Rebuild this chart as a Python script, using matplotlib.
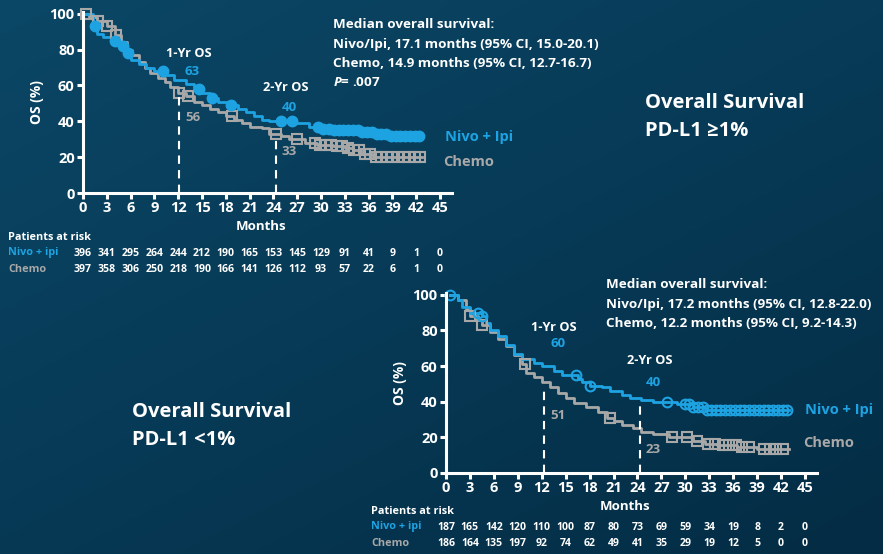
import numpy as np
import matplotlib.pyplot as plt
from matplotlib import transforms
from matplotlib.colors import LinearSegmentedColormap

plt.rcParams['font.family'] = ['Open Sans', 'DejaVu Sans']
plt.rcParams['font.weight'] = 'bold'
plt.rcParams['axes.labelweight'] = 'bold'
plt.rcParams['mathtext.fontset'] = 'custom'
plt.rcParams['mathtext.bfit'] = 'Open Sans:bold:italic'

BLUE = '#1ea3e2'
GREY = '#a8a8a8'
WHITE = '#ffffff'

# ---- PD-L1 >= 1% ----
hi_nivo_t = [0, 1.2, 1.8, 2.5, 3.5, 4.5, 5.3, 6.0, 7.0, 8.0, 9.0, 10.5, 11.5, 13.0, 14.0, 15.0,
             16.0, 17.0, 18.5, 19.5, 20.5, 21.5, 22.5, 23.5, 26.8, 28.5, 30.0, 31.5, 35.0, 36.5, 38.5, 42.7]
hi_nivo_s = [100, 93, 89, 87, 85, 82, 78, 74, 72, 70, 68, 66, 63, 61, 58, 56,
             53, 51, 49, 47, 45, 43, 41, 40, 39, 37, 35.5, 35, 34, 33, 32, 32]
hi_chemo_t = [0, 0.8, 1.8, 3.0, 4.0, 4.8, 5.5, 6.2, 7.0, 7.8, 8.5, 9.5, 10.3, 11.0, 12.0, 13.0,
              14.0, 15.0, 16.0, 17.0, 18.0, 19.0, 20.0, 21.0, 22.5, 23.5, 25.0, 26.0, 28.0, 29.5,
              31.5, 33.0, 34.0, 35.0, 36.5, 42.7]
hi_chemo_s = [100, 98, 96, 93, 88, 84, 80, 77, 73, 70, 67, 64, 62, 59, 56, 54,
              51, 49, 47, 45, 43, 41, 39, 37, 36, 33, 32, 30, 28, 27,
              26, 25, 24, 22, 20, 20]
hi_nivo_cens = [1.5, 4.0, 5.0, 5.7, 10.1, 14.6, 16.2, 18.7, 25.0, 26.4, 29.6, 30.3, 31.0, 31.6, 32.2,
                32.8, 33.4, 34.0, 34.6, 35.2, 35.8, 36.4, 37.0, 37.6, 38.2, 38.8, 39.4, 40.0,
                40.6, 41.2, 41.8, 42.4]
hi_chemo_cens = [0.4, 1.9, 3.0, 4.2, 12.1, 13.2, 18.8, 24.3, 27.0, 29.2, 29.9, 30.6, 31.3, 32.0,
                 32.7, 33.4, 34.1, 34.8, 35.5, 36.2, 36.9, 37.6, 38.3, 39.0, 39.7, 40.4, 41.1,
                 41.8, 42.5]
hi_risk_nivo = [396, 341, 295, 264, 244, 212, 190, 165, 153, 145, 129, 91, 41, 9, 1, 0]
hi_risk_chemo = [397, 358, 306, 250, 218, 190, 166, 141, 126, 112, 93, 57, 22, 6, 1, 0]
hi_landmarks = [(12.1, 55, '63', '56'), (24.3, 32, '40', '33')]
hi_median = ['Median overall survival:',
             'Nivo/Ipi, 17.1 months (95% CI, 15.0-20.1)',
             'Chemo, 14.9 months (95% CI, 12.7-16.7)']

# ---- PD-L1 < 1% ----
lo_nivo_t = [0.5, 1.5, 2.0, 3.0, 4.5, 5.0, 5.5, 6.5, 7.5, 8.5, 9.5, 11.0, 12.0, 13.5, 14.5,
             16.5, 17.0, 18.0, 19.5, 20.5, 22.0, 23.0, 24.5, 26.0, 29.0, 31.0, 32.5, 43.0]
lo_nivo_s = [100, 97, 93, 90, 88, 84, 80, 77, 72, 67, 64, 62, 60, 57, 55,
             53, 51, 49, 48, 46, 44, 42, 41, 40, 38.5, 37, 35.5, 35.5]
lo_chemo_t = [0.5, 1.5, 2.5, 3.0, 4.0, 4.5, 5.5, 6.5, 7.5, 8.5, 9.5, 10.0, 11.0, 12.0, 13.0,
              14.0, 15.0, 16.0, 17.5, 19.0, 20.2, 21.0, 22.0, 23.5, 24.5, 26.0, 28.0, 31.0,
              32.5, 34.0, 36.5, 39.0, 43.0]
lo_chemo_s = [100, 97, 92, 88, 86, 83, 79, 75, 71, 66, 61, 56, 54, 51, 48,
              45, 42, 39, 37, 34, 31, 29, 27, 25, 23, 22, 20, 18,
              16.5, 15.5, 14.5, 13.5, 13.5]
lo_nivo_cens = [0.5, 4.0, 4.5, 16.3, 18.0, 27.7, 30.0, 30.5, 31.0, 31.6, 32.2, 32.7, 33.2, 33.8,
                34.4, 35.0, 35.6, 36.2, 36.8, 37.4, 38.0, 38.6, 39.2, 39.8, 40.4, 41.0, 41.6,
                42.2, 42.8]
lo_chemo_cens = [3.0, 4.5, 9.9, 20.6, 28.3, 30.2, 31.5, 32.9, 33.7, 34.7, 35.5, 36.3, 37.1, 38.0,
                 39.8, 40.6, 41.4, 42.3]
lo_risk_nivo = [187, 165, 142, 120, 110, 100, 87, 80, 73, 69, 59, 34, 19, 8, 2, 0]
lo_risk_chemo = [186, 164, 135, 197, 92, 74, 62, 49, 41, 35, 29, 19, 12, 5, 0, 0]
lo_landmarks = [(12.3, 49, '60', '51'), (24.3, 39, '40', '23')]
lo_median = ['Median overall survival:',
             'Nivo/Ipi, 17.2 months (95% CI, 12.8-22.0)',
             'Chemo, 12.2 months (95% CI, 9.2-14.3)']

months = np.arange(0, 46, 3)

W, H = 883, 554
fig = plt.figure(figsize=(W / 100, H / 100), dpi=100)


def px(x, y):
    return x / W, 1 - y / H


# background gradient
bg = fig.add_axes([0, 0, 1, 1])
gx, gy = np.meshgrid(np.linspace(0, 1, 200), np.linspace(0, 1, 200))
cmap = LinearSegmentedColormap.from_list('bg', ['#0b4766', '#073a56', '#042c44'])
bg.imshow(0.55 * gy + 0.45 * gx, cmap=cmap, aspect='auto', extent=[0, 1, 0, 1], origin='upper')
bg.axis('off')


def step_at(t, s, x):
    i = np.searchsorted(t, x, side='right') - 1
    return np.asarray(s)[i]


def km_panel(rect, nt, ns, ct, cs, ncens, ccens, filled, landmarks, lm_pos):
    ax = fig.add_axes(rect)
    ax.set_facecolor('none')
    ax.step(ct, cs, where='post', color=GREY, lw=2, clip_on=False)
    ax.step(nt, ns, where='post', color=BLUE, lw=2, clip_on=False)
    ax.plot(ccens, step_at(ct, cs, ccens), 's', ms=7, mfc='none', mec=GREY, mew=1.5, clip_on=False)
    ax.plot(ncens, step_at(nt, ns, ncens), 'o', ms=7, mfc=BLUE if filled else 'none',
            mec=BLUE, mew=1.5, clip_on=False)
    for (x, top, vn, vc), (ly, ny, cy) in zip(landmarks, lm_pos):
        ax.plot([x, x], [0, top], color=WHITE, lw=1.5, ls=(0, (4, 3)))
        ax.text(x + 1.2, ly, f'{"1" if x < 18 else "2"}-Yr OS', color=WHITE, fontsize=9.2,
                ha='center', va='center')
        ax.text(x + 1.7, ny, vn, color=BLUE, fontsize=9.5, ha='center', va='center')
        ax.text(x + 1.7, cy, vc, color=GREY, fontsize=9.5, ha='center', va='center')
    ax.set_xlim(0, 46.5)
    ax.set_ylim(0, 101)
    ax.set_xticks(months)
    ax.set_yticks([0, 20, 40, 60, 80, 100])
    for side in ('top', 'right'):
        ax.spines[side].set_visible(False)
    for side in ('left', 'bottom'):
        ax.spines[side].set_color(WHITE)
        ax.spines[side].set_linewidth(2.2)
    ax.tick_params(colors=WHITE, width=2.2, length=4, labelsize=10.5, pad=2)
    for lab in ax.get_xticklabels() + ax.get_yticklabels():
        lab.set_fontweight('bold')
    ax.set_ylabel('OS (%)', color=WHITE, fontsize=10, labelpad=4)
    return ax


def risk_table(ax, x0, y_title, y_months, y_n, y_c, rn, rc):
    tr = transforms.blended_transform_factory(ax.transData, fig.transFigure)
    fig.text(*px(x0, y_title), 'Patients at risk', color=WHITE, fontsize=7.8, va='center')
    fig.text(*px(x0, y_n), 'Nivo + ipi', color=BLUE, fontsize=7.8, va='center')
    fig.text(*px(x0, y_c), 'Chemo', color=GREY, fontsize=7.8, va='center')
    ax.text(22.5, px(0, y_months)[1], 'Months', transform=tr, color=WHITE, fontsize=9.5,
            ha='center', va='center')
    for m, a, b in zip(months, rn, rc):
        ax.text(m, px(0, y_n)[1], str(a), transform=tr, color=WHITE, fontsize=7.6,
                ha='center', va='center')
        ax.text(m, px(0, y_c)[1], str(b), transform=tr, color=WHITE, fontsize=7.6,
                ha='center', va='center')


# top panel
ax1 = km_panel([83 / W, 1 - 193 / H, (452 - 83) / W, (193 - 12) / H],
               hi_nivo_t, hi_nivo_s, hi_chemo_t, hi_chemo_s, hi_nivo_cens, hi_chemo_cens,
               True, hi_landmarks, [(78, 68, 42), (59, 47.5, 23)])
risk_table(ax1, 8, 237, 227, 253, 270, hi_risk_nivo, hi_risk_chemo)
for i, line in enumerate(hi_median):
    fig.text(*px(333, 25 + 19.3 * i), line, color=WHITE, fontsize=9.7, va='center')
fig.text(*px(333, 82), r'$\bfit{P}$= .007', color=WHITE, fontsize=9.7, va='center')
fig.text(*px(445, 137), 'Nivo + Ipi', color=BLUE, fontsize=10.5, va='center')
fig.text(*px(443, 162), 'Chemo', color=GREY, fontsize=10.5, va='center')
fig.text(*px(645, 103), 'Overall Survival', color=WHITE, fontsize=14.5, va='center')
fig.text(*px(645, 131), 'PD-L1 ≥1%', color=WHITE, fontsize=14.5, va='center')

# bottom panel
ax2 = km_panel([446 / W, 1 - 473 / H, (817 - 446) / W, (473 - 293) / H],
               lo_nivo_t, lo_nivo_s, lo_chemo_t, lo_chemo_s, lo_nivo_cens, lo_chemo_cens,
               False, lo_landmarks, [(81.5, 72.5, 32), (63, 50.5, 13)])
risk_table(ax2, 371, 511, 506, 527, 543, lo_risk_nivo, lo_risk_chemo)
for i, line in enumerate(lo_median):
    fig.text(*px(606, 285 + 19.3 * i), line, color=WHITE, fontsize=9.7, va='center')
fig.text(*px(805, 410), 'Nivo + Ipi', color=BLUE, fontsize=10.5, va='center')
fig.text(*px(803, 443), 'Chemo', color=GREY, fontsize=10.5, va='center')
fig.text(*px(132, 412), 'Overall Survival', color=WHITE, fontsize=14.5, va='center')
fig.text(*px(132, 440), 'PD-L1 <1%', color=WHITE, fontsize=14.5, va='center')

fig.savefig('out.png', dpi=100)
